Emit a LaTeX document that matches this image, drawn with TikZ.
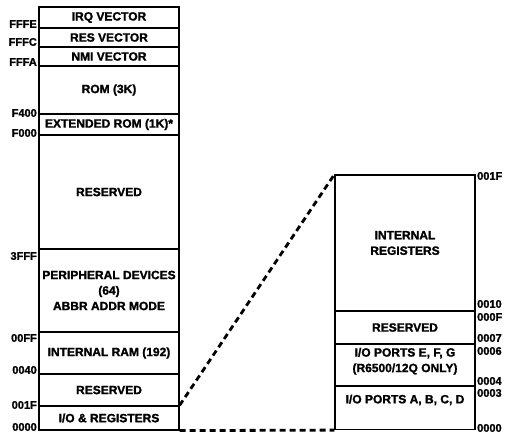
\documentclass[tikz,border=0pt]{standalone}
\usepackage{fontspec}
\setmainfont{Liberation Sans}[BoldFeatures={FakeBold=1.5}]
\begin{document}
\begin{tikzpicture}
  [x=1pt,y=-1pt,font=\fontsize{12}{15.5}\selectfont\bfseries,
   every node/.style={inner sep=0pt},
   region/.style={draw=black,line width=1.2pt,minimum width=140pt,align=center},
   lift/.style={text depth=#1},
   addr/.style={font=\fontsize{11}{13}\selectfont\bfseries},
   link/.style={line width=2.8pt,dash pattern=on 6pt off 4pt}]
  \useasboundingbox (0,0) rectangle (506,435);

  % page zero to top of memory
  \node[region,minimum height=21pt] (irq) at (109,17.5) {IRQ VECTOR};
  \node[region,minimum height=19pt] (res) at (109,37.5) {RES VECTOR};
  \node[region,minimum height=19pt] (nmi) at (109,56.5) {NMI VECTOR};
  \node[region,minimum height=48pt] (rom) at (109,90) {ROM (3K)};
  \node[region,minimum height=21pt] (extrom) at (109,124.5) {EXTENDED ROM (1K)*};
  \node[region,minimum height=114pt] (rsvhi) at (109,192) {RESERVED};
  \node[region,minimum height=83pt] (periph) at (109,290.5) {PERIPHERAL DEVICES\\(64)\\ABBR ADDR MODE};
  \node[region,minimum height=42pt] (ram) at (109,353) {INTERNAL RAM (192)};
  \node[region,minimum height=32pt] (rsvlo) at (109,390) {RESERVED};
  \node[region,minimum height=24pt] (iobox) at (109,418) {I/O \& REGISTERS};

  % expanded view of I/O and registers
  \node[region,minimum height=136pt] (intreg) at (405,243) {INTERNAL\\REGISTERS};
  \node[region,minimum height=33pt] (rsvio) at (405,327.5) {RESERVED};
  \node[region,minimum height=42pt,lift=10pt] (portsefg) at (405,365) {I/O PORTS E, F, G\\(R6500/12Q ONLY)};
  \node[region,minimum height=43pt,lift=18pt] (portsabcd) at (405,408) {I/O PORTS A, B, C, D};

  \draw[link] (iobox.north east) -- (intreg.north west);
  \draw[link] (iobox.south east) -- (portsabcd.south west);

  \foreach \y/\a [count=\i] in {24/FFFE,42/FFFC,62/FFFA,113/F400,133/F000,256/3FFF,338/00FF,370/0040,405/001F,427/0000}
    \node[addr,anchor=east] (la\i) at (37,\y) {\a};
  \foreach \y/\a [count=\i] in {176/001F,304/0010,317/000F,338/0007,351/0006,381/0004,393/0003,428/0000}
    \node[addr,anchor=west] (ra\i) at (477,\y) {\a};
\end{tikzpicture}
\end{document}
